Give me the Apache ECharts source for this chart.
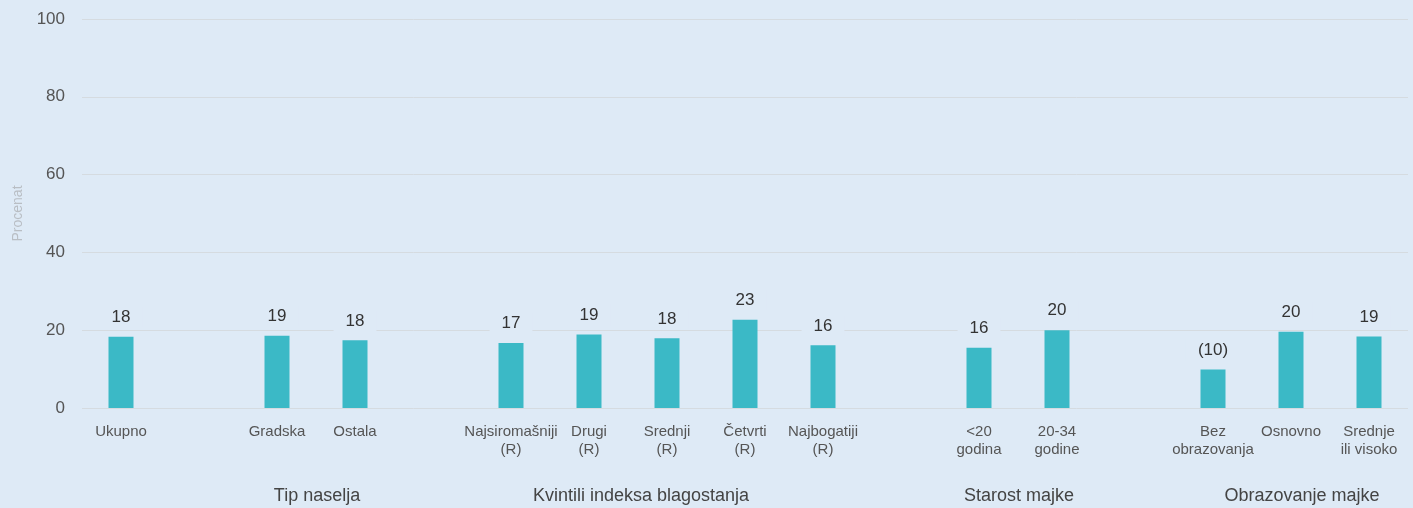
<!DOCTYPE html>
<html>
<head>
    <meta charset="utf-8">
    <title>Procenat</title>
    <style>
        html, body { margin: 0; padding: 0; background: #deeaf6; }
        #chart { width: 1413px; height: 508px; }
    </style>
</head>
<body>
    <div id="chart"></div>
    <script src="https://cdn.jsdelivr.net/npm/echarts@6/dist/echarts.min.js"></script>
    <script>
        // kategorije (prazni stringovi = razmak izmedju grupa)
        var categories = ['Ukupno', '', 'Gradska', 'Ostala', '',
            'Najsiromašniji\n(R)', 'Drugi\n(R)', 'Srednji\n(R)', 'Četvrti\n(R)', 'Najbogatiji\n(R)', '',
            '<20\ngodina', '20-34\ngodine', '',
            'Bez\nobrazovanja', 'Osnovno', 'Srednje\nili visoko'];
        // vrijednosti procitane sa slike
        var values = [18.3, null, 18.6, 17.4, null,
            16.7, 18.9, 17.9, 22.7, 16.1, null,
            15.5, 20.0, null,
            9.9, 19.6, 18.4];
        // oznake iznad stubaca
        var valueLabels = ['18', '', '19', '18', '',
            '17', '19', '18', '23', '16', '',
            '16', '20', '',
            '(10)', '20', '19'];
        // nazivi grupa i njihova sredina (x u pikselima)
        var groupNames = ['Tip naselja', 'Kvintili indeksa blagostanja', 'Starost majke', 'Obrazovanje majke'];
        var groupCenters = [317, 641, 1019, 1302];

        var bg = '#deeaf6';
        var font = '"Liberation Sans", Arial, sans-serif';
        var chart = echarts.init(document.getElementById('chart'));

        var option = {
            backgroundColor: bg,
            animation: false,
            textStyle: { fontFamily: font },
            grid: { left: 82, right: 5, top: 19, bottom: 100, containLabel: false },
            xAxis: {
                type: 'category',
                data: categories,
                axisLine: { show: false },
                axisTick: { show: false },
                axisLabel: {
                    interval: 0,
                    color: '#555',
                    fontSize: 15,
                    lineHeight: 18,
                    margin: 15,
                    fontFamily: font
                }
            },
            yAxis: {
                type: 'value',
                min: 0,
                max: 100,
                interval: 20,
                name: 'Procenat',
                nameLocation: 'middle',
                nameGap: 57,
                nameTextStyle: { color: '#b9bec4', fontSize: 14, fontFamily: font },
                axisLine: { show: false },
                axisTick: { show: false },
                axisLabel: { color: '#555', fontSize: 17, margin: 17, fontFamily: font },
                splitLine: { lineStyle: { color: '#d5dbe0', width: 1 } }
            },
            graphic: groupNames.map(function (name, i) {
                return {
                    type: 'text',
                    x: groupCenters[i],
                    y: 496,
                    style: {
                        text: name,
                        fill: '#444',
                        font: '18px ' + font,
                        textAlign: 'center',
                        textVerticalAlign: 'middle'
                    }
                };
            }),
            series: [{
                type: 'bar',
                data: values,
                barWidth: 25,
                itemStyle: { color: '#3bb9c6' },
                label: {
                    show: true,
                    position: 'top',
                    distance: 9,
                    color: '#333',
                    fontSize: 17,
                    fontFamily: font,
                    backgroundColor: bg,
                    padding: [2, 12, 2, 12],
                    formatter: function (p) { return valueLabels[p.dataIndex]; }
                }
            }]
        };

        chart.setOption(option);
    </script>
</body>
</html>
